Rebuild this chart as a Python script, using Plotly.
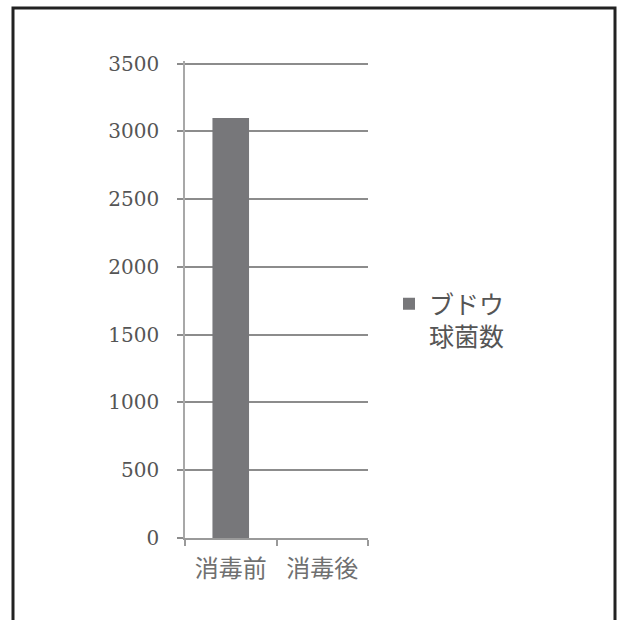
import plotly.graph_objects as go

categories = ["消毒前", "消毒後"]
values = [3100, 0]
series_name = "ブドウ<br>球菌数"
y_ticks = [0, 500, 1000, 1500, 2000, 2500, 3000, 3500]

W, H = 622, 620
L, R, T, B = 185, 254, 61, 82
pw, ph = W - L - R, H - T - B

def px_x(x):
    return (x - L) / pw

def px_y(y):
    return (H - B - y) / ph

fig = go.Figure()
fig.add_trace(go.Bar(
    x=categories, y=values, name=series_name,
    marker=dict(color="#77777a", line=dict(width=0)),
    showlegend=True,
))

fig.update_layout(
    width=W, height=H,
    margin=dict(l=L, r=R, t=T, b=B, pad=0),
    paper_bgcolor="white", plot_bgcolor="white",
    bargap=0.6,
    showlegend=True,
    legend=dict(
        x=px_x(389), y=px_y(281), xanchor="left", yanchor="top",
        valign="top",
        font=dict(family="Noto Sans CJK JP", size=25, color="#555555"),
        bgcolor="rgba(0,0,0,0)",
    ),
    xaxis=dict(
        showgrid=False, showline=True, linecolor="#9a9a9a", linewidth=2,
        ticks="outside", tickson="boundaries", ticklen=6, tickcolor="#9a9a9a", tickwidth=1.5,
        ticklabelstandoff=8,
        tickfont=dict(family="Noto Sans CJK JP", size=24, color="#707070"),
        range=[-0.5, 1.5],
    ),
    yaxis=dict(
        range=[0, 3520], tickvals=y_ticks, ticktext=[str(v) for v in y_ticks],
        showgrid=True, gridcolor="#8c8c8c", gridwidth=2,
        showline=True, linecolor="#a8a8a8", linewidth=1.5,
        ticks="outside", ticklen=6, tickcolor="#8c8c8c", tickwidth=2,
        ticklabelstandoff=14,
        tickfont=dict(family="DejaVu Serif", size=20, color="#555555"),
        zeroline=False,
    ),
    shapes=[dict(
        type="rect", xref="paper", yref="paper",
        x0=px_x(13), x1=px_x(615), y0=px_y(640), y1=px_y(8),
        line=dict(color="#222222", width=3), fillcolor="rgba(0,0,0,0)",
        layer="above",
    )],
)

fig.write_html("out.html")
